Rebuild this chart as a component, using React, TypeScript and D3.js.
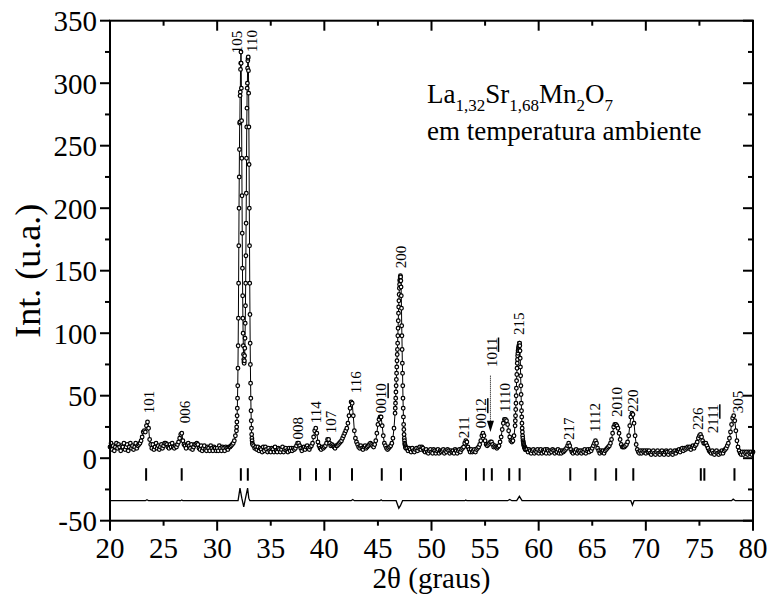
import React from "react";
import * as d3 from "d3";

const FONT = "'Liberation Serif', 'Times New Roman', Times, serif";

const segStarts = [20.0, 31.8, 33.4, 46.62, 47.7, 57.82, 58.9];
const segSteps = [0.1, 0.02, 0.1, 0.02, 0.1, 0.02, 0.1];

const obsA = [
  9, 12, 7, 10, 6, 9, 12, 8, 11, 9,
  6, 10, 9, 12, 7, 9, 11, 6, 9, 12,
  8, 10, 7, 9, 12, 8, 10, 11, 12, 14,
  17, 21, 22, 21, 26, 29, 24, 15, 11, 8,
  11, 7, 9, 12, 8, 10, 7, 9, 11, 8,
  10, 12, 12, 11, 9, 8, 11, 9, 12, 9,
  8, 10, 9, 11, 13, 16, 19, 20, 14, 11,
  10, 8, 11, 12, 10, 8, 11, 7, 9, 11,
  11, 12, 11, 8, 7, 10, 6, 8, 10, 7,
  6, 9, 8, 6, 10, 8, 6, 9, 8, 6,
  8, 6, 10, 8, 6, 9, 8, 6, 9, 8,
  7, 9, 9, 10, 11, 12, 14, 18,
];

const obsB = [
  22, 25, 29, 34, 40, 48, 58, 72, 90, 112,
  140, 170, 200, 225, 247, 268, 269, 290, 293, 311,
  316, 325, 316, 296, 270, 240, 210, 180, 152, 130,
  112, 100, 90, 83, 79, 77, 76, 78, 82, 88,
  96, 108, 122, 140, 162, 188, 212, 240, 265, 280,
  296, 300, 312, 318, 320, 321, 310, 292, 265, 235,
  200, 170, 140, 115, 92, 75, 60, 48, 38, 30,
  24, 19, 16, 14, 12, 11,
];

const obsC = [
  10, 8, 9, 7, 9, 6,
  8, 7, 5, 9, 6, 9, 7, 5, 8, 6,
  5, 8, 7, 5, 9, 6, 5, 8, 7, 5,
  7, 9, 5, 7, 8, 6, 5, 8, 6, 8,
  6, 8, 7, 8, 10, 12, 12, 10, 8, 6,
  8, 9, 7, 9, 10, 8, 7, 9, 10, 12,
  17, 22, 24, 20, 13, 10, 8, 7, 9, 8,
  9, 10, 12, 15, 15, 12, 10, 11, 10, 9,
  8, 10, 10, 11, 12, 13, 14, 16, 18, 20,
  22, 24, 28, 34, 40, 45, 44, 34, 22, 16,
  13, 11, 9, 8, 10, 8, 7, 9, 10, 8,
  9, 10, 11, 12, 11, 10, 9, 11, 14, 20,
  27, 31, 33, 33, 26, 18, 12, 10, 8, 7,
  8, 9, 10, 12, 16, 24, 36,
];

const obsD = [
  40, 44, 48, 53, 58, 63, 68, 73, 78, 83,
  87, 92, 98, 104, 110, 116, 121, 126, 131, 136,
  139, 142, 143, 145, 146, 145, 142, 137, 130, 120,
  106, 98, 87, 76, 68, 58, 48, 40, 33, 27,
  23, 19, 16, 14, 12, 11, 10, 9, 9, 8,
];

const obsE = [
  8, 6, 8,
  7, 5, 8, 6, 5, 7, 8, 6, 8, 9,
  7, 9, 8, 6, 5, 7, 5, 4, 6, 7,
  5, 4, 7, 6, 4, 6, 7, 4, 6, 5,
  6, 7, 4, 6, 5, 7, 6, 4, 6, 5,
  6, 4, 7, 6, 4, 6, 7, 5, 7, 8,
  9, 12, 14, 13, 9, 7, 5, 7, 5, 6,
  7, 5, 7, 8, 9, 11, 14, 18, 20, 18,
  14, 11, 10, 11, 12, 13, 13, 11, 9, 10,
  9, 8, 9, 10, 13, 17, 23, 28, 31, 31,
  30, 27, 22, 17, 14, 13, 14, 18, 26,
];

const obsF = [
  30, 34, 39, 44, 50, 56, 62, 67, 72, 76,
  79, 82, 84, 86, 87, 88, 89, 90, 91, 92,
  92, 90, 86, 80, 73, 66, 58, 51, 44, 38,
  33, 28, 24, 21, 18, 16, 14, 13, 12, 11,
  10, 10, 9, 9, 8, 8, 7, 8, 7, 7,
];

const obsG = [
  7,
  5, 7, 6, 4, 6, 7, 4, 6, 5, 7,
  4, 6, 7, 4, 6, 5, 7, 4, 7, 6,
  4, 6, 5, 7, 6, 4, 6, 5, 7, 4,
  6, 4, 6, 5, 6, 7, 8, 10, 12, 10,
  7, 5, 4, 6, 5, 7, 4, 6, 5, 6,
  4, 6, 5, 7, 4, 6, 7, 5, 7, 6,
  8, 10, 12, 14, 12, 8, 6, 4, 6, 5,
  6, 4, 6, 7, 8, 9, 10, 12, 15, 20,
  25, 27, 27, 26, 24, 20, 15, 11, 9, 9,
  9, 10, 11, 13, 18, 26, 33, 36, 35, 28,
  18, 11, 7, 5, 4, 6, 4, 6, 5, 6,
  4, 6, 5, 6, 4, 3, 5, 6, 4, 3,
  5, 6, 4, 3, 5, 6, 4, 3, 5, 6,
  5, 3, 5, 6, 4, 3, 5, 6, 4, 6,
  6, 7, 5, 7, 8, 6, 8, 7, 8, 9,
  8, 9, 7, 9, 10, 8, 10, 11, 13, 16,
  18, 19, 17, 14, 12, 12, 12, 10, 8, 6,
  5, 4, 6, 4, 3, 5, 6, 4, 3, 5,
  4, 6, 4, 6, 7, 8, 10, 12, 16, 21,
  27, 32, 34, 30, 22, 14, 9, 6, 4, 3,
  5, 3, 5, 4, 5, 3, 5, 4, 5, 3,
  5,
];

const obsSegments = [obsA, obsB, obsC, obsD, obsE, obsF, obsG];

// Difference curve (obs - calc, offset)
const diffX = [20, 23.3, 23.45, 23.6, 26.6, 26.7, 26.8, 31.95, 32.13, 32.3, 32.48, 32.62, 32.84, 32.95, 33.05,
  42.5, 42.65, 42.8, 45.2, 45.3, 45.4, 46.7, 46.95, 47.1, 47.3, 53.1, 53.2, 53.3, 57.1, 57.3, 57.5, 57.95,
  58.2, 58.45, 68.6, 68.75, 68.9, 78.0, 78.15, 78.35, 80];
const diffY = [-34, -34, -33.2, -34, -34, -33.4, -34, -34, -24, -32, -39, -33, -24, -32, -34,
  -34, -33, -34, -34, -33.3, -34, -34, -40, -38, -34, -34, -33.5, -34, -34, -33, -34, -34,
  -30.5, -34, -34, -37.5, -34, -34, -32.8, -34, -34];

// Bragg reflection positions
const braggPos = [23.37, 26.69, 32.21, 32.86, 37.74, 39.22, 40.52, 42.58, 45.36, 47.15, 53.22, 54.88,
  55.63, 57.25, 58.22, 62.95, 65.3, 67.23, 68.83, 75.13, 75.46, 78.27];

// Miller index labels (plain part + underlined part)
const labelMain = ["101", "006", "105", "110", "008", "114", "107", "116", "00", "200", "211", "00", "10",
  "1110", "215", "217", "1112", "2010", "220", "226", "21", "305"];
const labelUnder = ["", "", "", "", "", "", "", "", "10", "", "", "12", "11", "", "", "", "", "", "", "", "11", ""];
const labelX = [23.6, 27.0, 31.8, 33.2, 37.5, 39.2, 40.6, 42.9, 45.3, 47.15, 53.05, 54.6, 55.6, 56.85, 58.15,
  62.8, 65.25, 67.26, 68.8, 74.85, 76.25, 78.6];
const labelY = [36, 28, 324, 325, 15, 28, 20, 52, 36, 152, 16, 24, 73, 37, 98.6, 14.5, 21, 33, 37, 22.5, 20, 36];

// arrow for 10(11)
const arrowX = 55.5;
const arrowTop = 66;
const arrowTip = 21;

const xTickLabels = [20, 25, 30, 35, 40, 45, 50, 55, 60, 65, 70, 75, 80];
const yTickLabels = [-50, 0, 50, 100, 150, 200, 250, 300, 350];

export default function App() {
  const x = d3.scaleLinear().domain([20, 80]).range([110, 753]);
  const y = d3.scaleLinear().domain([-50, 350]).range([520.7, 20.7]);

  const pts: [number, number][] = obsSegments.flatMap((vals, s) =>
    vals.map((v, i) => [segStarts[s] + i * segSteps[s], v] as [number, number])
  );
  const line = d3.line<[number, number]>().x((d) => x(d[0])).y((d) => y(d[1]));
  const diffPts = diffX.map((t, i) => [t, diffY[i]] as [number, number]);

  const xMajor = d3.range(20, 81, 10);
  const xMinor = d3.range(25, 80, 10);
  const yMajor = d3.range(-50, 351, 50);
  const yMinor = d3.range(-25, 350, 50);
  const [x0, x1] = x.range();
  const [yb, yt] = y.range();

  return (
    <div style={{ position: "absolute", left: 0, top: 0 }}>
      <svg width={773} height={598} style={{ display: "block", background: "#fff" }} fontFamily={FONT}>
        {/* calc line */}
        <path d={line(pts) || ""} fill="none" stroke="#000" strokeWidth={1} />
        {/* observed circles */}
        <g fill="#fff" stroke="#000" strokeWidth={1.25}>
          {pts.map((d, i) => (
            <circle key={i} cx={x(d[0])} cy={y(d[1])} r={1.8} />
          ))}
        </g>
        {/* bragg ticks */}
        <g stroke="#000" strokeWidth={2}>
          {braggPos.map((b, i) => (
            <line key={i} x1={x(b)} x2={x(b)} y1={y(-8)} y2={y(-18)} />
          ))}
        </g>
        {/* difference */}
        <path d={line(diffPts) || ""} fill="none" stroke="#000" strokeWidth={1.3} />

        {/* labels */}
        <g fontSize={15} fill="#000">
          {labelMain.map((m, i) => (
            <text key={i} transform={`translate(${x(labelX[i])},${y(labelY[i])}) rotate(-90)`} dy="0.35em">
              {m}
              {labelUnder[i] ? <tspan style={{ textDecoration: "underline" }}>{labelUnder[i]}</tspan> : null}
            </text>
          ))}
        </g>
        {/* arrow */}
        <line x1={x(arrowX)} x2={x(arrowX)} y1={y(arrowTop)} y2={y(arrowTip + 8)} stroke="#000" strokeWidth={1} strokeDasharray="1,1" />
        <path d={`M${x(arrowX) - 3.5},${y(arrowTip + 9)} L${x(arrowX) + 3.5},${y(arrowTip + 9)} L${x(arrowX)},${y(arrowTip)} Z`} fill="#000" />

        {/* frame */}
        <rect x={x0} y={yt} width={x1 - x0} height={yb - yt} fill="none" stroke="#000" strokeWidth={2} />
        <g stroke="#000" strokeWidth={2}>
          {xMajor.map((t) => (
            <g key={"xM" + t}>
              <line x1={x(t)} x2={x(t)} y1={yb} y2={yb + 10} />
              <line x1={x(t)} x2={x(t)} y1={yt} y2={yt + 10} />
            </g>
          ))}
          {xMinor.map((t) => (
            <g key={"xm" + t}>
              <line x1={x(t)} x2={x(t)} y1={yb} y2={yb + 5} />
              <line x1={x(t)} x2={x(t)} y1={yt} y2={yt + 5} />
            </g>
          ))}
          {yMajor.map((t) => (
            <g key={"yM" + t}>
              <line x1={x0} x2={x0 - 10} y1={y(t)} y2={y(t)} />
              <line x1={x1} x2={x1 - 10} y1={y(t)} y2={y(t)} />
            </g>
          ))}
          {yMinor.map((t) => (
            <g key={"ym" + t}>
              <line x1={x0} x2={x0 - 5} y1={y(t)} y2={y(t)} />
              <line x1={x1} x2={x1 - 5} y1={y(t)} y2={y(t)} />
            </g>
          ))}
        </g>
        {/* tick labels */}
        <g fontSize={29} fill="#000">
          {xTickLabels.map((t) => (
            <text key={"xl" + t} x={x(t)} y={yb + 37} textAnchor="middle">{t}</text>
          ))}
          {yTickLabels.map((t) => (
            <text key={"yl" + t} x={x0 - 13} y={y(t)} dy="0.36em" textAnchor="end">{t}</text>
          ))}
        </g>
        {/* axis titles */}
        <text x={(x0 + x1) / 2} y={588} fontSize={29} textAnchor="middle">2θ (graus)</text>
        <text transform={`translate(40,${(yb + yt) / 2}) rotate(-90)`} fontSize={36} textAnchor="middle">Int. (u.a.)</text>

        {/* legend */}
        <text x={427} y={103} fontSize={27}>
          La<tspan fontSize={17} dy={8}>1,32</tspan>
          <tspan dy={-8}>Sr</tspan><tspan fontSize={17} dy={8}>1,68</tspan>
          <tspan dy={-8}>Mn</tspan><tspan fontSize={17} dy={8}>2</tspan>
          <tspan dy={-8}>O</tspan><tspan fontSize={17} dy={8}>7</tspan>
        </text>
        <text x={427} y={140} fontSize={27}>em temperatura ambiente</text>
      </svg>
    </div>
  );
}
